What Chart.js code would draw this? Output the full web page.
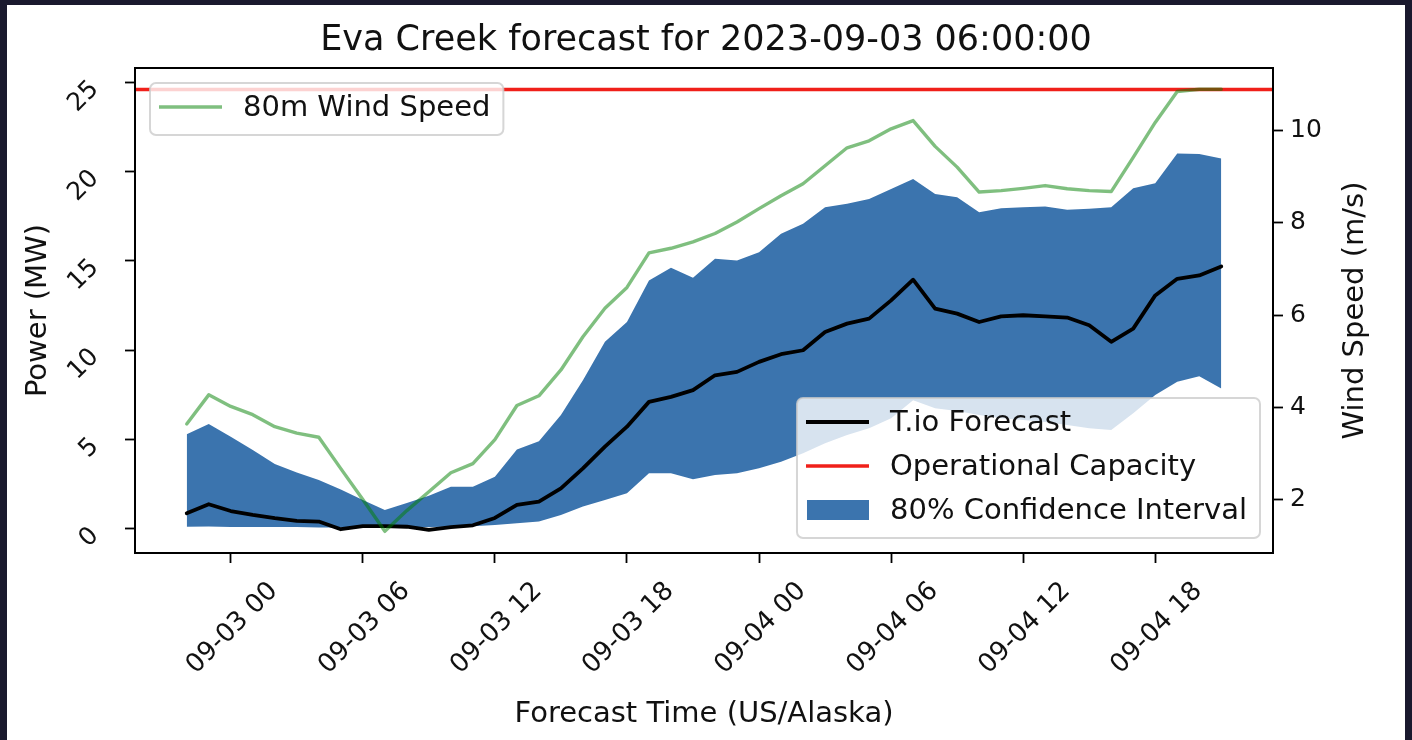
<!DOCTYPE html>
<html>
<head>
<meta charset="utf-8">
<title>Eva Creek forecast</title>
<script src="https://cdn.jsdelivr.net/npm/chart.js@4.4.0/dist/chart.umd.min.js"></script>
<style>
  html, body { margin: 0; padding: 0; background: #1a192e; }
  #card { position: absolute; left: 7px; top: 5px; width: 1398px; height: 735px; background: #fff; }
  canvas { display: block; }
</style>
</head>
<body>
<div id="card"><canvas id="chart" width="1398" height="735"></canvas></div>
<script>
// Hours relative to 2023-09-03 00:00 (US/Alaska)
const hours = [-2, -1, 0, 1, 2, 3, 4, 5, 6, 7, 8, 9, 10, 11, 12, 13, 14, 15, 16, 17, 18, 19, 20, 21,
  22, 23, 24, 25, 26, 27, 28, 29, 30, 31, 32, 33, 34, 35, 36, 37, 38, 39, 40, 41, 42, 43, 44, 45];

const forecastMW = [0.88, 1.38, 1.00, 0.78, 0.60, 0.45, 0.41, -0.02, 0.15, 0.15, 0.12, -0.06, 0.10, 0.20,
  0.61, 1.34, 1.53, 2.27, 3.39, 4.60, 5.72, 7.11, 7.39, 7.77, 8.60, 8.79, 9.35, 9.78, 10.00, 11.02,
  11.49, 11.77, 12.79, 13.95, 12.33, 12.05, 11.58, 11.90, 11.96, 11.90, 11.83, 11.40, 10.47, 11.21,
  13.07, 14.00, 14.19, 14.69];

const lowerMW = [0.12, 0.13, 0.10, 0.10, 0.10, 0.10, 0.08, 0.08, 0.08, 0.08, 0.08, 0.10, 0.12, 0.15,
  0.22, 0.32, 0.41, 0.78, 1.25, 1.62, 1.99, 3.11, 3.11, 2.78, 3.02, 3.11, 3.39, 3.76, 4.23, 4.80,
  5.25, 5.64, 6.20, 7.20, 6.76, 6.60, 6.37, 6.20, 6.09, 5.98, 5.81, 5.64, 5.53, 6.48, 7.50, 8.23,
  8.55, 7.86];

const upperMW = [5.30, 5.87, 5.16, 4.41, 3.63, 3.15, 2.74, 2.20, 1.62, 1.06, 1.45, 1.85, 2.36, 2.36,
  2.92, 4.45, 4.90, 6.37, 8.32, 10.47, 11.58, 13.91, 14.62, 14.06, 15.12, 15.03, 15.49, 16.52, 17.08,
  18.01, 18.20, 18.47, 19.03, 19.59, 18.75, 18.56, 17.73, 17.95, 18.01, 18.04, 17.86, 17.92, 18.01,
  19.07, 19.35, 21.02, 20.99, 20.74];

const windSpeed = [3.64, 4.27, 4.02, 3.84, 3.58, 3.44, 3.35, 2.67, 2.00, 1.31, 1.76, 2.17, 2.58, 2.78,
  3.30, 4.04, 4.25, 4.81, 5.53, 6.15, 6.60, 7.35, 7.45, 7.59, 7.77, 8.02, 8.31, 8.59, 8.85, 9.24,
  9.63, 9.78, 10.04, 10.22, 9.66, 9.21, 8.67, 8.70, 8.75, 8.81, 8.74, 8.70, 8.68, 9.42, 10.18, 10.85,
  10.90, 10.90];

const capacityMW = 24.6;

const xTicks = [0, 6, 12, 18, 24, 30, 36, 42];
const xTickLabels = ["09-03 00", "09-03 06", "09-03 12", "09-03 18", "09-04 00", "09-04 06", "09-04 12", "09-04 18"];
const powerTicks = [0, 5, 10, 15, 20, 25];
const windTicks = [2, 4, 6, 8, 10];
const xRange = [-4.35, 47.35];
const powerRange = [-1.35, 25.8];
const windRange = [0.84, 11.36];

const titleText = "Eva Creek forecast for 2023-09-03 06:00:00";
const xTitle = "Forecast Time (US/Alaska)";
const yTitle = "Power (MW)";
const y2Title = "Wind Speed (m/s)";

const FONT = "'DejaVu Sans', sans-serif";
const BLUE = "#3b74ae";
const GREEN = "rgba(0, 128, 0, 0.5)";

function toPoints(values) {
  return hours.map((h, i) => ({ x: h, y: values[i] }));
}

// Frame around the axes + right-hand label + matplotlib style legends
const mplExtras = {
  id: "mplExtras",
  afterDatasetsDraw(chart) {
    const { ctx, chartArea: a } = chart;
    ctx.save();
    ctx.strokeStyle = "#000";
    ctx.lineWidth = 2;
    ctx.strokeRect(a.left, a.top, a.right - a.left, a.bottom - a.top);
    ctx.restore();
  },
  afterDraw(chart) {
    const { ctx, chartArea: a } = chart;
    const y1 = chart.scales.y1;

    // right axis label, reading upward
    ctx.save();
    ctx.font = "29px " + FONT;
    ctx.fillStyle = "#111";
    ctx.textAlign = "center";
    ctx.textBaseline = "middle";
    ctx.translate(y1.right - 50, (a.top + a.bottom) / 2);
    ctx.rotate(-Math.PI / 2);
    ctx.fillText(y2Title, 0, 0);
    ctx.restore();

    const ds = chart.data.datasets;
    drawLegend(ctx, [ds[4]], a.left + 15, a.top + 15, "topleft");
    drawLegend(ctx, [ds[2], ds[3], ds[1]], a.right - 13, a.bottom - 15, "bottomright");
  }
};

function drawLegend(ctx, items, ax, ay, corner) {
  ctx.save();
  ctx.font = "29px " + FONT;
  const textW = Math.max(...items.map(d => ctx.measureText(d.label).width));
  const w = 93 + textW + 13;
  const h = 52 + (items.length - 1) * 44;
  const left = corner === "topleft" ? ax : ax - w;
  const top = corner === "topleft" ? ay : ay - h;

  ctx.beginPath();
  ctx.roundRect(left, top, w, h, 6);
  ctx.fillStyle = "rgba(255, 255, 255, 0.8)";
  ctx.fill();
  ctx.strokeStyle = "rgba(204, 204, 204, 0.8)";
  ctx.lineWidth = 2;
  ctx.stroke();

  items.forEach((d, i) => {
    const cy = top + 24 + i * 44;
    if (d.fill) {
      ctx.fillStyle = d.backgroundColor;
      ctx.fillRect(left + 10, cy - 10, 62, 20);
    } else {
      ctx.beginPath();
      ctx.moveTo(left + 9, cy);
      ctx.lineTo(left + 72, cy);
      ctx.strokeStyle = d.borderColor;
      ctx.lineWidth = d.borderWidth;
      ctx.stroke();
    }
    ctx.fillStyle = "#111";
    ctx.textAlign = "left";
    ctx.textBaseline = "middle";
    ctx.fillText(d.label, left + 93, cy + 1);
  });
  ctx.restore();
}

const tickFont = { family: FONT, size: 25 };
const tickGrid = { display: true, drawOnChartArea: false, drawTicks: true, tickLength: 10, tickColor: "#000", tickWidth: 1.8 };

new Chart(document.getElementById("chart"), {
  type: "line",
  data: {
    datasets: [
      {
        label: "lower",
        data: toPoints(lowerMW),
        yAxisID: "y",
        borderWidth: 0,
        pointRadius: 0,
        fill: false,
        order: 5
      },
      {
        label: "80% Confidence Interval",
        data: toPoints(upperMW),
        yAxisID: "y",
        borderWidth: 0,
        borderColor: BLUE,
        backgroundColor: BLUE,
        pointRadius: 0,
        fill: "-1",
        order: 4
      },
      {
        label: "T.io Forecast",
        data: toPoints(forecastMW),
        yAxisID: "y",
        borderColor: "#000",
        borderWidth: 3.8,
        pointRadius: 0,
        fill: false,
        order: 1
      },
      {
        label: "Operational Capacity",
        data: [{ x: xRange[0], y: capacityMW }, { x: xRange[1], y: capacityMW }],
        yAxisID: "y",
        borderColor: "#f0201a",
        borderWidth: 3.4,
        pointRadius: 0,
        fill: false,
        order: 2
      },
      {
        label: "80m Wind Speed",
        data: toPoints(windSpeed),
        yAxisID: "y1",
        borderColor: GREEN,
        borderWidth: 3.4,
        pointRadius: 0,
        fill: false,
        order: 0
      }
    ]
  },
  options: {
    responsive: false,
    animation: false,
    events: [],
    layout: { padding: 0 },
    elements: { line: { tension: 0, borderJoinStyle: "round", borderCapStyle: "round" } },
    plugins: {
      legend: { display: false },
      tooltip: { enabled: false },
      title: {
        display: true,
        text: titleText,
        color: "#111",
        font: { family: FONT, size: 35, weight: "normal" },
        padding: { top: 15, bottom: 6 }
      }
    },
    scales: {
      x: {
        type: "linear",
        position: "bottom",
        min: xRange[0],
        max: xRange[1],
        afterBuildTicks: s => { s.ticks = xTicks.map(v => ({ value: v })); },
        afterFit: s => { s.height = 187; },
        ticks: {
          callback: v => xTickLabels[xTicks.indexOf(v)],
          autoSkip: false,
          minRotation: 45,
          maxRotation: 45,
          labelOffset: 43,
          padding: 13,
          color: "#111",
          font: { family: FONT, size: 26 }
        },
        grid: tickGrid,
        border: { display: false },
        title: {
          display: true,
          text: xTitle,
          color: "#111",
          font: { family: FONT, size: 29 },
          padding: { top: 8, bottom: 8 }
        }
      },
      y: {
        type: "linear",
        position: "left",
        min: powerRange[0],
        max: powerRange[1],
        afterBuildTicks: s => { s.ticks = powerTicks.map(v => ({ value: v })); },
        afterFit: s => { s.width = 128; },
        ticks: {
          minRotation: 45,
          maxRotation: 45,
          padding: 30,
          labelOffset: 3,
          color: "#111",
          font: tickFont
        },
        grid: tickGrid,
        border: { display: false },
        title: {
          display: true,
          text: yTitle,
          color: "#111",
          font: { family: FONT, size: 29 },
          padding: { top: 14, bottom: 14 }
        }
      },
      y1: {
        type: "linear",
        position: "right",
        min: windRange[0],
        max: windRange[1],
        afterBuildTicks: s => { s.ticks = windTicks.map(v => ({ value: v })); },
        afterFit: s => { s.width = 132; },
        ticks: {
          padding: 7,
          color: "#111",
          font: tickFont
        },
        grid: tickGrid,
        border: { display: false }
      }
    }
  },
  plugins: [mplExtras]
});
</script>
</body>
</html>
